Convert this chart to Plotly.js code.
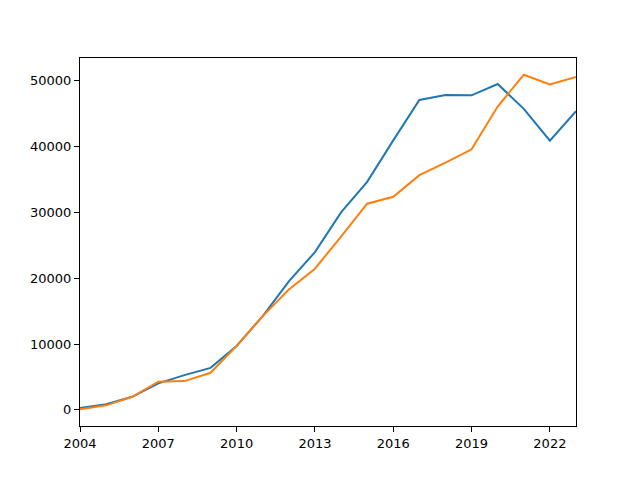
<!DOCTYPE html>
<html>
<head>
<meta charset="utf-8">
<script src="https://cdn.plot.ly/plotly-3.0.1.min.js"></script>
<style>html,body{margin:0;padding:0;background:#fff;}#chart{width:640px;height:480px;}</style>
</head>
<body>
<div id="chart"></div>
<script>
const years = [2004,2005,2006,2007,2008,2009,2010,2011,2012,2013,2014,2015,2016,2017,2018,2019,2020,2021,2022,2023];
const seriesBlue = [300,860,2000,4030,5290,6390,9720,14250,19530,23970,30000,34640,40940,47080,47830,47780,49500,45720,40890,45370];
const seriesOrange = [100,700,2000,4280,4380,5640,9720,14250,18280,21450,26330,31320,32370,35650,37560,39580,46070,50910,49440,50560];
const xTicks = [2004,2007,2010,2013,2016,2019,2022];
const yTicks = [0,10000,20000,30000,40000,50000];

const axisCommon = {
  showline: true, linecolor: '#000', linewidth: 1, mirror: true,
  ticks: 'outside', ticklen: 5, tickwidth: 1, tickcolor: '#000',
  showgrid: false, zeroline: false,
  tickfont: {family: 'DejaVu Sans', size: 13, color: '#000'}
};

Plotly.newPlot('chart', [
  {x: years, y: seriesBlue, type: 'scatter', mode: 'lines', line: {color: '#1f77b4', width: 2}},
  {x: years, y: seriesOrange, type: 'scatter', mode: 'lines', line: {color: '#ff7f0e', width: 2}}
], {
  width: 640, height: 480,
  margin: {l: 80, r: 64, t: 58, b: 54},
  paper_bgcolor: '#fff', plot_bgcolor: '#fff',
  showlegend: false,
  xaxis: Object.assign({}, axisCommon, {range: [2004, 2023], tickvals: xTicks, ticktext: xTicks.map(String)}),
  yaxis: Object.assign({}, axisCommon, {range: [-2440, 53450], tickvals: yTicks, ticktext: yTicks.map(String)})
}, {displayModeBar: false, staticPlot: true});
</script>
</body>
</html>
